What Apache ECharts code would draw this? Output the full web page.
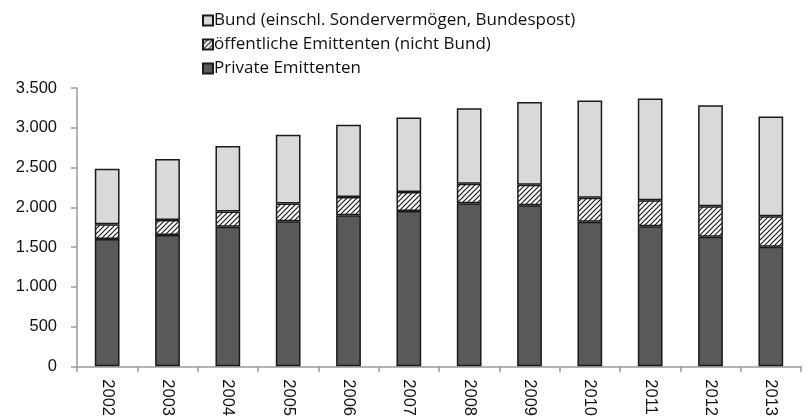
<!DOCTYPE html>
<html>
<head>
<meta charset="utf-8">
<script src="https://cdn.jsdelivr.net/npm/echarts@6/dist/echarts.min.js"></script>
<style>
  html, body { margin: 0; padding: 0; background: #fff; }
  #chart { width: 808px; height: 419px; }
</style>
</head>
<body>
<div id="chart"></div>
<script>
// Years on the category axis
const years = ['2002','2003','2004','2005','2006','2007','2008','2009','2010','2011','2012','2013'];

// Stacked components (Mrd. Euro)
const privateIssuers = [1600, 1650, 1754, 1825, 1900, 1954, 2050, 2025, 1817, 1762, 1629, 1504];
const publicNonFederal = [187, 191, 192, 221, 229, 238, 246, 258, 304, 326, 384, 384];
const federal = [697, 767, 825, 866, 909, 937, 950, 1042, 1221, 1279, 1270, 1254];

// Series names
const seriesNames = [
  'Bund (einschl. Sondervermögen, Bundespost)',
  'öffentliche Emittenten (nicht Bund)',
  'Private Emittenten'
];

// Diagonal hatch pattern for the public (non-federal) issuers
function makeHatch() {
  const c = document.createElement('canvas');
  const s = 5;
  c.width = s; c.height = s;
  const ctx = c.getContext('2d');
  ctx.fillStyle = '#ffffff';
  ctx.fillRect(0, 0, s, s);
  ctx.strokeStyle = '#1a1a1a';
  ctx.lineWidth = 1.2;
  ctx.beginPath();
  ctx.moveTo(-1, s + 1); ctx.lineTo(s + 1, -1);
  ctx.moveTo(-1, 1); ctx.lineTo(1, -1);
  ctx.moveTo(s - 1, s + 1); ctx.lineTo(s + 1, s - 1);
  ctx.stroke();
  return c;
}
const hatch = { image: makeHatch(), repeat: 'repeat' };

const chart = echarts.init(document.getElementById('chart'), null, { renderer: 'canvas' });

const border = { borderColor: '#1a1a1a', borderWidth: 1.5 };

chart.setOption({
  animation: false,
  backgroundColor: '#ffffff',
  textStyle: { fontFamily: 'Liberation Sans' },
  grid: { left: 77, right: 7, top: 88, bottom: 51 },
  legend: {
    orient: 'vertical',
    left: 197,
    top: 7,
    itemWidth: 10,
    itemHeight: 10,
    itemGap: 7,
    icon: 'rect',
    data: seriesNames,
    textStyle: { fontFamily: 'Open Sans', fontSize: 17, color: '#111', padding: [0, 0, 0, -4] }
  },
  xAxis: {
    type: 'category',
    data: years,
    boundaryGap: true,
    axisLine: { lineStyle: { color: '#9a9a9a', width: 1.5 } },
    axisTick: { show: true, length: 6, alignWithLabel: false, lineStyle: { color: '#9a9a9a', width: 1.5 } },
    axisLabel: { rotate: -90, fontSize: 16.5, color: '#111', margin: 13, fontFamily: 'Liberation Sans' }
  },
  yAxis: {
    type: 'value',
    min: 0,
    max: 3500,
    interval: 500,
    splitLine: { show: false },
    axisLine: { show: true, lineStyle: { color: '#9a9a9a', width: 1.5 } },
    axisTick: { show: true, length: 6, lineStyle: { color: '#9a9a9a', width: 1.5 } },
    axisLabel: {
      fontSize: 16.5,
      color: '#111',
      margin: 20,
      formatter: v => v.toLocaleString('de-DE')
    }
  },
  series: [
    {
      name: seriesNames[2],
      type: 'bar',
      stack: 'total',
      barWidth: '41%',
      data: privateIssuers,
      itemStyle: Object.assign({ color: '#595959' }, border)
    },
    {
      name: seriesNames[1],
      type: 'bar',
      stack: 'total',
      data: publicNonFederal,
      itemStyle: Object.assign({ color: hatch }, border)
    },
    {
      name: seriesNames[0],
      type: 'bar',
      stack: 'total',
      data: federal,
      itemStyle: Object.assign({ color: '#d9d9d9' }, border)
    }
  ]
});
</script>
</body>
</html>
